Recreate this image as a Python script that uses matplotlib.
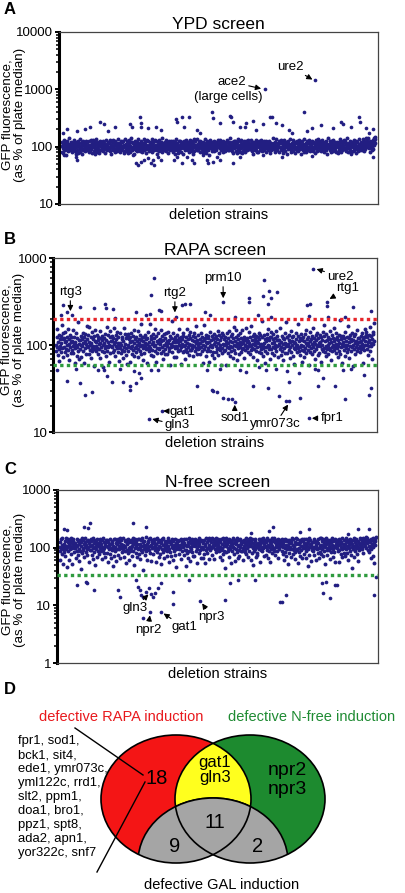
import numpy as np
import matplotlib
matplotlib.use('Agg')
import matplotlib.pyplot as plt
from matplotlib.patches import Ellipse
from matplotlib.ticker import NullFormatter

plt.rcParams['font.family'] = ['Liberation Sans', 'DejaVu Sans']

# ---- data: deletion strains, GFP fluorescence (% of plate median) ----
# dense band of strains (strain order along x)
ypd_band = """
104 82 121 95 77 110 131 90 99 86 117 106 73 126 93 101 84 113 139 97
98 112 87 104 123 93 80 117 101 108 90 129 95 114 84 106 99 120 76 110
88 108 125 79 100 115 92 134 81 104 96 122 75 111 87 128 102 91 118 83
115 91 103 127 86 100 119 94 109 81 124 97 105 88 132 102 92 116 79 107
97 130 85 107 119 76 94 112 89 136 99 80 123 105 92 114 78 101 127 86
89 121 96 110 100 85 126 103 93 117 78 108 99 131 90 113 104 87 122 95
116 93 100 83 129 98 109 74 121 95 87 133 103 90 118 81 106 125 96 111
106 83 118 98 134 91 102 114 80 111 96 125 88 104 119 93 100 128 85 109
79 103 137 91 112 85 99 124 77 108 94 131 88 115 102 82 120 97 143 89
120 97 90 115 104 76 112 99 126 87 108 94 121 83 102 136 95 110 91 117
110 84 97 126 92 105 80 117 100 135 86 113 96 123 78 107 91 129 103 94
93 126 105 84 100 119 88 109 97 138 81 114 103 92 123 99 86 107 129 96
125 98 88 109 76 120 101 93 132 84 111 99 119 87 104 141 82 114 95 106
111 88 99 122 94 106 131 85 118 101 90 112 77 127 96 105 116 89 100 124
91 116 104 81 128 96 110 86 100 122 75 107 134 92 117 89 103 79 126 99
87 107 128 93 113 82 102 120 98 109 75 125 94 117 101 86 133 104 92 115
102 87 121 97 113 80 130 94 108 83 118 100 90 127 76 111 98 138 85 105
124 100 92 108 86 135 97 111 89 119 103 95 126 82 110 98 121 91 106 79
83 122 95 106 89 136 99 115 78 103 92 124 110 86 101 119 73 109 94 130
101 116 84 119 95 104 90 128 107 83 114 99 123 93 88 112 102 130 97 108
118 100 77 131 93 105 87 121 98 112 81 128 96 107 90 115 102 84 123 97
94 131 103 89 117 100 122 86 105 96 139 91 109 120 84 101 113 78 125 98
96 109 126 85 114 99 79 119 104 91 137 88 108 100 125 82 112 95 129 78
109 85 115 102 92 127 80 113 95 124 100 87 106 118 97 132 90 103 116 92
107 90 101 132 84 116 97 123 75 110 94 106 86 121 99 133 88 113 80 102
82 119 97 126 106 88 116 101 129 93 111 84 120 99 105 89 127 96 112 103
128 81 111 94 120 102 89 105 127 92 115 77 100 118 87 109 96 140 91 104
118 93 108 80 121 99 92 134 87 106 115 97 102 125 81 114 100 119 90 130
86 114 98 107 79 125 93 131 101 116 84 103 122 97 74 111 90 126 106 95
113 96 135 88 102 82 117 99 108 85 129 94 111 78 120 100 92 115 87 124
99 123 83 112 97 130 90 104 119 76 106 93 127 101 113 88 135 81 109 96
92 105 117 80 126 100 114 87 97 133 89 120 102 83 116 95 108 124 98 85
121 88 100 115 93 108 77 129 96 111 83 123 99 136 86 105 118 91 102 128
84 111 132 97 105 90 122 102 80 117 98 109 87 125 94 113 76 107 139 100
105 94 86 124 110 81 103 127 91 116 100 85 133 96 108 120 89 99 114 82
119 101 109 78 98 121 87 112 134 93 104 126 80 115 97 88 123 106 92 130
95 128 90 117 84 107 100 139 82 113 95 102 118 86 125 99 110 79 121 103
108 85 122 99 131 89 116 94 106 77 127 101 92 119 84 104 112 97 137 88
103 110 96 123 89 114 137 94 101 118 85 128 108 92 122 99 144 113 127 140
100 117 93 110 80 126 97 105 120 87 114 98 131 90 108 124 142 115 135 146
"""
ypd_out_x = [19, 5, 50, 76, 92, 123, 134, 149, 170, 217, 223, 249, 252, 254, 275,
             301, 317, 364, 369, 385, 390, 405, 432, 442, 479, 484, 505, 536, 539, 546,
             567, 583, 588, 609, 620, 641, 664, 670, 682, 701, 724, 735, 771, 782, 797,
             827, 865, 891, 897, 923, 949, 952, 970, 980, 991, 648, 808,
             8, 45, 50, 228, 238, 243, 254, 264, 275, 285, 290, 296, 306, 317, 358,
             369, 385, 400, 416, 421, 452, 463, 468, 484, 494, 505, 546, 567, 641, 703,
             797, 923, 991]
ypd_out_y = [203, 171, 188, 200, 224, 273, 249, 190, 224, 249, 224, 334, 263, 218, 209,
             224, 196, 309, 273, 326, 224, 334, 196, 171, 398, 312, 255, 339, 326, 273,
             224, 218, 255, 284, 196, 249, 326, 334, 255, 239, 196, 171, 398, 190, 209,
             239, 209, 270, 249, 224, 326, 270, 209, 171, 203, 1016, 1459,
             72, 67, 59, 72, 51, 48, 55, 59, 63, 51, 59, 48, 67, 59, 59,
             67, 51, 67, 59, 51, 72, 59, 51, 55, 67, 59, 51, 67, 72, 67,
             70, 74, 67]

rapa_band = """
102 87 125 95 154 78 110 133 91 66 117 99 84 128 106 172 93 119 74 140
96 121 84 108 143 91 113 77 126 100 153 88 117 104 68 131 95 110 82 123
89 113 97 148 81 104 126 62 108 92 137 100 76 121 95 183 86 115 103 69
115 90 128 102 73 119 97 140 86 107 124 62 112 94 135 80 104 168 99 118
131 96 79 110 163 88 101 124 72 107 93 141 85 118 99 58 127 91 112 150
85 109 98 133 92 116 79 125 103 90 147 106 71 121 96 129 87 114 101 57
84 120 105 92 136 75 98 116 164 87 109 95 130 64 102 123 82 145 97 111
127 95 112 83 120 104 159 89 110 76 132 98 118 93 141 84 106 124 66 102
107 93 139 81 100 118 89 126 71 113 96 158 86 104 134 78 120 92 61 129
100 136 87 118 95 64 123 108 92 138 80 113 99 127 88 151 105 75 117 94
95 124 83 111 102 146 90 73 119 106 132 87 98 177 80 114 101 125 94 67
111 82 125 97 106 130 90 117 63 103 121 94 144 85 109 98 178 92 128 77
117 88 103 135 76 109 97 121 85 152 100 65 128 92 112 82 139 105 90 115
93 118 104 148 81 112 96 127 87 69 115 101 134 90 122 79 106 139 97 113
79 106 144 94 116 87 127 60 103 96 120 190 84 110 99 137 73 118 93 108
123 99 74 115 131 92 108 85 120 102 155 88 113 96 126 61 104 117 83 137
128 98 86 113 101 69 124 91 155 107 83 117 95 131 77 104 122 89 143 100
88 114 102 92 127 76 139 98 111 85 124 107 93 166 79 116 100 131 90 105
92 119 105 80 138 96 111 86 126 63 102 114 169 90 121 97 75 108 133 85
106 129 93 121 65 109 97 142 87 115 101 78 128 95 119 84 135 103 72 120
110 83 127 99 91 118 147 77 106 94 132 88 115 101 59 123 93 140 82 104
132 86 117 100 89 125 104 59 113 96 137 82 107 122 92 146 99 111 76 127
86 135 96 108 72 122 100 161 89 112 81 126 97 149 68 105 118 94 130 101
79 110 96 138 103 84 120 91 149 107 93 116 71 126 100 88 114 160 98 109
121 94 113 84 142 97 107 124 79 100 166 88 116 92 127 103 74 136 90 109
117 101 129 87 112 95 67 123 106 140 83 119 97 130 90 104 81 124 188 94
99 76 130 105 87 118 62 111 95 134 82 120 101 152 91 114 98 125 70 143
90 126 82 107 118 135 96 110 78 121 102 93 145 86 114 99 128 74 116 103
114 102 91 156 78 109 96 128 86 121 104 67 117 93 138 81 106 186 99 123
82 125 97 104 133 89 115 71 110 95 146 84 124 100 113 76 129 92 108 61
105 90 140 98 119 83 102 127 94 176 87 111 78 121 96 134 100 65 116 88
126 99 85 112 74 136 92 106 150 81 119 101 89 125 107 60 97 113 144 84
93 117 103 80 128 95 160 109 87 122 70 104 131 91 115 98 138 77 101 120
107 81 132 97 110 64 123 90 116 102 86 141 94 127 173 83 112 99 75 135
91 114 100 126 79 105 93 147 88 118 68 108 96 130 85 121 102 157 89 111
118 96 82 137 103 92 124 73 114 99 133 87 106 195 80 117 95 128 63 104
97 129 108 88 120 76 101 143 94 113 84 125 100 166 90 109 72 122 98 132
112 85 119 95 140 102 58 116 91 127 105 79 134 96 111 87 149 103 121 93
108 94 120 99 84 113 127 91 104 137 96 118 62 124 89 111 153 101 131 142
101 123 90 110 78 131 97 115 162 86 106 129 99 70 118 142 104 136 181 113
"""
rapa_out_x = [16, 36, 52, 77, 119, 155, 157, 178, 186, 253, 284, 297, 307, 299, 325,
              330, 376, 397, 407, 421, 469, 485, 526, 562, 608, 608, 634, 650, 655, 665,
              670, 675, 675, 696, 789, 794, 799, 809, 851, 851, 856, 907, 933, 990, 21,
              5, 36, 62, 77, 93, 113, 134, 150, 160, 175, 201, 211, 232, 232, 247,
              253, 260, 268, 299, 320, 335, 294, 443, 474, 493, 490, 505, 516, 526, 541,
              552, 562, 577, 598, 619, 639, 660, 665, 691, 701, 722, 727, 732, 732, 763,
              768, 794, 814, 825, 825, 840, 876, 902, 907, 928, 969, 985, 990]
rapa_out_y = [223, 244, 223, 278, 271, 296, 266, 259, 208, 244, 223, 227, 598, 378, 255,
              248, 213, 291, 296, 296, 244, 223, 317, 213, 347, 312, 223, 372, 563, 296,
              421, 347, 213, 406, 291, 219, 296, 753, 317, 285, 213, 213, 278, 248, 290,
              52, 39, 54, 37, 27, 29, 52, 52, 44, 38, 54, 38, 34, 31, 50,
              37, 48, 42, 52, 52, 17.6, 14.2, 34, 52, 30, 31, 29, 54, 25, 24,
              24, 22.5, 52, 49, 34, 57, 52, 32, 54, 26, 23, 50, 23, 38, 48,
              25, 14.5, 54, 52, 34, 42, 34, 52, 24, 54, 46, 27, 32]

nfree_band = """
104 88 126 61 97 139 112 79 145 93 53 118 101 84 131 72 108 149 95 46
101 125 87 139 114 60 106 131 94 145 78 119 97 52 128 108 140 85 116 99
121 99 67 113 86 142 105 76 128 58 96 117 135 89 107 43 124 81 148 100
135 92 117 68 124 103 147 83 111 129 96 74 138 101 120 57 133 90 109 144
91 132 110 74 146 98 63 119 85 137 103 51 127 94 115 70 141 87 106 120
110 78 128 97 142 88 115 63 104 134 92 149 81 123 99 113 70 137 106 126
136 82 101 125 57 111 93 144 78 116 100 66 133 90 122 48 109 140 97 73
86 143 102 121 59 131 95 117 140 76 108 127 93 146 65 118 100 136 84 112
113 95 150 69 107 129 86 102 138 55 121 92 114 80 143 99 62 126 104 88
124 99 136 73 109 145 87 114 128 51 122 97 139 105 80 131 115 68 143 93
98 140 77 118 103 64 134 91 109 147 84 124 41 112 96 130 75 105 152 87
95 116 61 130 101 124 140 90 107 82 147 112 58 126 98 135 77 119 103 141
127 106 90 139 56 115 100 83 145 94 123 68 108 136 79 101 119 52 132 93
139 84 113 148 92 67 121 104 133 97 115 72 128 88 145 109 56 124 95 130
85 117 133 72 102 144 97 60 128 110 89 141 76 105 120 93 47 137 114 99
105 128 95 79 138 111 99 144 63 117 126 86 134 101 74 120 142 92 110 49
141 92 108 81 125 65 113 149 87 101 134 59 119 95 143 84 106 128 71 111
120 71 142 107 86 119 132 54 125 94 137 108 81 146 116 90 128 103 66 135
103 130 66 121 94 138 78 107 116 54 146 90 126 100 82 135 97 112 63 148
91 134 104 126 97 148 75 112 101 139 64 123 95 131 110 84 147 118 99 127
96 111 143 86 132 70 104 123 92 140 61 117 99 150 77 109 131 89 44 122
146 107 83 117 135 89 123 98 70 141 105 129 93 55 119 137 87 114 150 102
119 78 100 136 58 114 95 127 83 145 105 67 134 91 113 73 142 102 125 88
114 89 129 100 62 127 109 138 85 122 96 145 78 111 133 100 69 126 107 143
88 147 115 62 106 129 81 139 97 50 121 108 86 133 96 143 69 118 103 76
82 121 111 144 96 106 57 132 117 91 140 103 124 86 149 97 116 135 73 108
133 101 74 124 92 148 66 111 135 87 104 125 57 138 94 116 82 106 146 98
130 98 147 87 123 76 114 101 136 109 88 127 142 66 104 121 94 138 112 125
107 125 89 142 79 103 118 60 130 99 144 83 112 71 128 95 137 52 109 121
80 137 104 96 131 68 120 93 149 77 110 140 90 101 63 127 85 145 114 92
144 94 122 55 117 99 84 136 72 126 105 91 142 65 108 132 98 120 79 139
97 113 65 140 87 121 106 49 130 93 148 75 116 102 134 58 111 125 90 104
125 86 143 102 76 133 97 116 61 109 127 94 139 81 119 100 67 147 106 85
110 148 78 128 95 108 139 71 122 88 101 134 53 115 145 92 124 74 99 136
90 120 105 64 136 98 124 85 147 112 70 129 96 107 83 141 103 56 118 131
138 100 127 88 110 57 142 91 114 131 79 103 123 93 146 68 117 99 134 82
102 73 116 149 93 130 80 105 138 62 124 97 111 143 86 120 75 128 101 45
117 135 96 106 69 145 88 127 100 115 140 78 108 132 59 98 122 91 150 112
99 142 116 93 131 104 127 80 145 118 135 107 129 140 97 151 122 133 147 138
92 109 131 83 123 101 66 140 95 118 136 72 147 104 126 54 129 143 111 155
"""
nfree_out_x = [287, 323, 446, 186, 192, 244, 249, 254, 259, 264, 275, 285, 290, 295, 301,
               311, 358, 358, 264, 57, 83, 88, 109, 321, 409, 523, 617, 705, 715, 829,
               834, 855, 870, 995, 539, 565, 699, 844, 877, 1000,
               98, 233, 275, 674, 663, 762, 788, 943, 979, 78, 91, 16, 26, 606, 912]
nfree_out_y = [7.75, 7.6, 11.9, 18.4, 14.1, 27.4, 21, 18.4, 15.1, 14.1, 17.2, 19.7, 15.7, 14.1, 16.5,
               19.7, 17.2, 10.5, 5.95, 22.5, 25.6, 24.1, 18.4, 24.1, 27.4, 12.4, 27.4, 11.6, 15.1, 24.1,
               16.1, 13.2, 22.5, 15.1, 24, 27.4, 11.3, 25.6, 22.6, 31.3,
               264, 264, 225, 225, 196, 190, 208, 208, 208, 225, 217, 208, 200, 181, 170]

rapa_up_cut, rapa_low_cut = 200, 60
nfree_low_cut = 33

venn_genes = ["fpr1, sod1,", "bck1, sit4,", "ede1, ymr073c,", "yml122c, rrd1,",
              "slt2, ppm1,", "doa1, bro1,", "ppz1, spt8,", "ada2, apn1,", "yor322c, snf7"]

navy = '#221e82'
W, H = 406, 893
fig = plt.figure(figsize=(W / 100, H / 100), dpi=100)


def px_axes(l, t, r, b):
    return fig.add_axes([l / W, 1 - b / H, (r - l) / W, (b - t) / H])


def screen(ax, band, ox, oy, ylim, ticks, title):
    vals = np.array(band.split(), dtype=float)
    xs = np.arange(len(vals)) * 1000.0 / (len(vals) - 1)
    ax.scatter(xs, vals, s=8, c=navy, marker='o', linewidths=0, zorder=2)
    ax.scatter(ox, oy, s=7, c=navy, marker='o', linewidths=0, zorder=2)
    ax.set_yscale('log')
    ax.set_ylim(*ylim)
    ax.set_xlim(-8, 1008)
    ax.set_yticks(ticks)
    ax.set_yticklabels([str(t) for t in ticks], fontsize=9.5)
    ax.yaxis.set_minor_formatter(NullFormatter())
    ax.tick_params(axis='y', which='major', length=3, width=1.4, pad=1)
    ax.tick_params(axis='y', which='minor', length=2, width=1.1)
    ax.set_xticks([])
    for s in ['top', 'right', 'bottom']:
        ax.spines[s].set_linewidth(0.9)
        ax.spines[s].set_color('#444444')
    ax.spines['left'].set_linewidth(2.2)
    ax.set_title(title, fontsize=12.5, pad=2)
    ax.set_xlabel('deletion strains', fontsize=10.5, labelpad=3)


arrow = dict(arrowstyle='-|>', color='k', lw=0.8, mutation_scale=8, shrinkA=0, shrinkB=1)


def note(ax, label, xy, xytext):
    ax.annotate(label, xy=xy, xytext=xytext, fontsize=9.5, ha='center', va='center',
                arrowprops=arrow)


# ---- A ----
axA = px_axes(59, 32, 378, 204)
screen(axA, ypd_band, ypd_out_x, ypd_out_y, (10, 10000), [10, 100, 1000, 10000], 'YPD screen')
note(axA, 'ace2', (640, 1016), (542, 1346))
axA.text(530, 736, '(large cells)', fontsize=9.5, ha='center', va='center')
note(axA, 'ure2', (803, 1440), (729, 2489))

# ---- B ----
axB = px_axes(53.3, 258.3, 376.7, 432.3)
screen(axB, rapa_band, rapa_out_x, rapa_out_y, (10, 1000), [10, 100, 1000], 'RAPA screen')
axB.axhline(rapa_up_cut, color='#e5262b', lw=2.4, ls=(0, (1, 1)), zorder=3)
axB.axhline(rapa_low_cut, color='#2f9b3f', lw=2.4, ls=(0, (1, 1)), zorder=3)
note(axB, 'rtg3', (46, 238), (45, 410))
note(axB, 'rtg2', (374, 230), (374, 399))
note(axB, 'prm10', (526, 335), (525, 594))
note(axB, 'ure2', (815, 760), (894, 615))
note(axB, 'rtg1', (856, 335), (918, 452))
note(axB, 'gat1', (333, 17.6), (397, 17.3))
note(axB, 'gln3', (299, 14.3), (382, 12.1))
note(axB, 'sod1', (562, 21.5), (562, 14.5))
note(axB, 'ymr073c', (732, 21.5), (689, 12.4))
note(axB, 'fpr1', (800, 14.5), (867, 14.5))

# ---- C ----
axC = px_axes(56.7, 490, 378.3, 663)
screen(axC, nfree_band, nfree_out_x, nfree_out_y, (1, 1000), [1, 10, 100, 1000], 'N-free screen')
axC.axhline(nfree_low_cut, color='#2f9b3f', lw=2.4, ls=(0, (1, 1)), zorder=3)
note(axC, 'gln3', (285, 16.1), (238, 8.87))
note(axC, 'npr2', (287, 7.1), (280, 3.73))
note(axC, 'gat1', (326, 7.45), (394, 4.16))
note(axC, 'npr3', (449, 11.3), (482, 6.19))

# y labels
ylab = 'GFP fluorescence,\n(as % of plate median)'
for cx, cy in [(14, 115), (13, 340), (14, 580)]:
    fig.text(cx / W, 1 - cy / H, ylab, rotation=90, ha='center', va='center',
             fontsize=9.6, linespacing=1.0, multialignment='center')

# ---- overlay in pixel coordinates: panel letters + Venn (D) ----
ov = fig.add_axes([0, 0, 1, 1])
ov.set_xlim(0, W)
ov.set_ylim(H, 0)
ov.axis('off')
ov.patch.set_visible(False)

for letter, y in [('A', 10), ('B', 240), ('C', 470), ('D', 690)]:
    ov.text(4, y, letter, fontsize=12, fontweight='bold', ha='left', va='center')

red, green, yellow, grey = '#f41515', '#1d8a2f', '#ffff1e', '#a5a5a5'
ew, eh = 150, 128
c_rapa, c_nfree, c_gal = (176, 799), (250, 799), (213, 862)

ov.add_patch(Ellipse(c_rapa, ew, eh, fc=red, ec='none'))
ov.add_patch(Ellipse(c_nfree, ew, eh, fc=green, ec='none'))
clip_r = Ellipse(c_rapa, ew, eh, transform=ov.transData)
clip_g = Ellipse(c_nfree, ew, eh, transform=ov.transData)
yel = Ellipse(c_nfree, ew, eh, fc=yellow, ec='none')
ov.add_patch(yel)
yel.set_clip_path(clip_r)
for clip in (clip_r, clip_g):
    g = Ellipse(c_gal, ew, eh, fc=grey, ec='k', lw=1.2)
    ov.add_patch(g)
    g.set_clip_path(clip)
for c in (c_rapa, c_nfree):
    ov.add_patch(Ellipse(c, ew, eh, fc='none', ec='k', lw=1.2))

ov.text(121, 717, 'defective RAPA induction', color='#e8191d', fontsize=10.5, ha='center', va='center')
ov.text(312, 717, 'defective N-free induction', color='#1f8b33', fontsize=10.5, ha='center', va='center')
ov.text(222, 885, 'defective GAL induction', fontsize=10.5, ha='center', va='center')
ov.text(18, 797, '\n'.join(venn_genes), fontsize=9.4, ha='left', va='center', linespacing=1.22)
ov.plot([75, 143], [728, 775], color='k', lw=1)
ov.plot([145, 97], [782, 872], color='k', lw=1)

ov.text(157, 778, '18', fontsize=14.5, ha='center', va='center')
ov.text(215, 770, 'gat1\ngln3', fontsize=12, ha='center', va='center', linespacing=1.0)
ov.text(287, 780, 'npr2\nnpr3', fontsize=14, ha='center', va='center', linespacing=1.1)
ov.text(215, 822, '11', fontsize=14.5, ha='center', va='center')
ov.text(175, 847, '9', fontsize=14.5, ha='center', va='center')
ov.text(258, 847, '2', fontsize=14.5, ha='center', va='center')

fig.savefig('out.png', dpi=100)
